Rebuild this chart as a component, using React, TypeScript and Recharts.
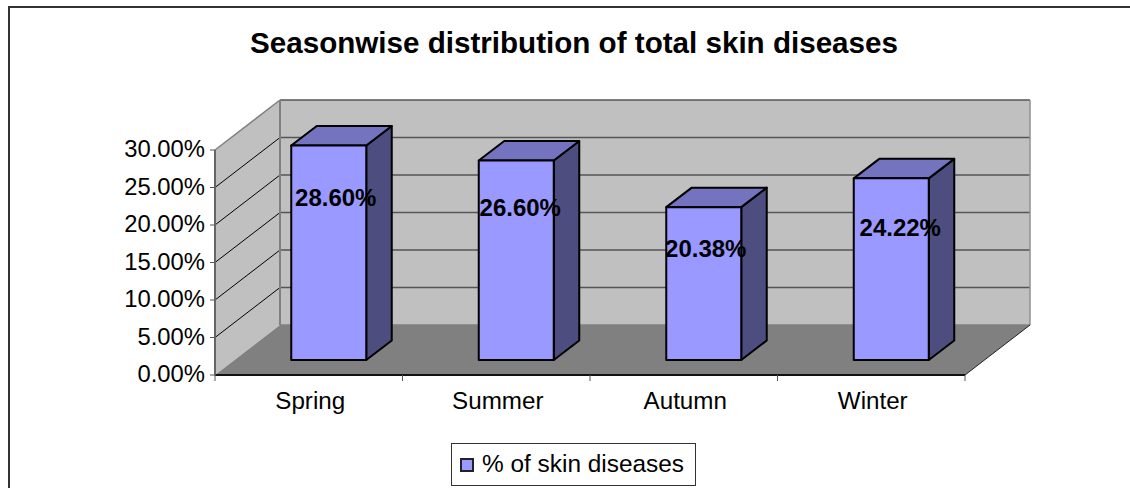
import { Bar, BarChart, LabelList, Legend, XAxis, YAxis, usePlotArea } from "recharts";

const seasons = ["Spring", "Summer", "Autumn", "Winter"];
const skinDiseases = [28.6, 26.6, 20.38, 24.22];
const yTicks = [0, 5, 10, 15, 20, 25, 30];

const chartData = seasons.map((season, i) => ({ season, value: skinDiseases[i] }));

const FONT = '"Liberation Sans", Arial, sans-serif';
const MAX_Y = 30;
// 3d projection offsets, in px
const WALL_DX = 65;
const WALL_DY = -50;
const BAR_DX = 20;
const BAR_DY = -15;
const SIDE_DX = 25.5;
const SIDE_DY = -19.5;
// the value labels sit a bit unevenly on the bars
const LABEL_NUDGE = [
  [0, 0],
  [-3, -3],
  [-5, -1],
  [2, 2],
];

function Backdrop() {
  const plot = usePlotArea();
  if (!plot) return null;
  const left = plot.x;
  const right = plot.x + plot.width;
  const top = plot.y;
  const bottom = plot.y + plot.height;
  const yOf = (v: number) => bottom - (v / MAX_Y) * plot.height;
  const band = plot.width / seasons.length;

  return (
    <g>
      <polygon
        points={`${left},${bottom} ${left + WALL_DX},${bottom + WALL_DY} ${left + WALL_DX},${top + WALL_DY} ${left},${top}`}
        fill="#c0c0c0"
      />
      <rect x={left + WALL_DX} y={top + WALL_DY} width={plot.width} height={plot.height} fill="#c0c0c0" />
      <polygon
        points={`${left},${bottom} ${right},${bottom} ${right + WALL_DX},${bottom + WALL_DY} ${left + WALL_DX},${bottom + WALL_DY}`}
        fill="#808080"
      />
      {yTicks.slice(1).map((t) => (
        <g key={t}>
          <line
            x1={left + WALL_DX}
            x2={right + WALL_DX}
            y1={yOf(t) + WALL_DY}
            y2={yOf(t) + WALL_DY}
            stroke="#555"
            strokeWidth={1.5}
          />
          {t < MAX_Y && (
            <line x1={left} y1={yOf(t)} x2={left + WALL_DX} y2={yOf(t) + WALL_DY} stroke="#000" strokeWidth={1} />
          )}
        </g>
      ))}
      <line x1={left} y1={top} x2={left + WALL_DX} y2={top + WALL_DY} stroke="#808080" strokeWidth={1.5} />
      <line x1={left + WALL_DX} y1={top + WALL_DY} x2={left + WALL_DX} y2={bottom + WALL_DY} stroke="#808080" strokeWidth={2} />
      <line x1={right + WALL_DX} y1={top + WALL_DY} x2={right + WALL_DX} y2={bottom + WALL_DY} stroke="#909090" strokeWidth={1.5} />
      <line x1={left + WALL_DX} y1={bottom + WALL_DY} x2={right + WALL_DX} y2={bottom + WALL_DY} stroke="#808080" strokeWidth={1.5} />
      <line x1={right} y1={bottom} x2={right + WALL_DX} y2={bottom + WALL_DY} stroke="#222" strokeWidth={1} />
      <line x1={left} y1={bottom} x2={right} y2={bottom} stroke="#111" strokeWidth={2} />
      {seasons.concat("").map((_, i) => (
        <line key={i} x1={left + i * band} x2={left + i * band} y1={bottom} y2={bottom + 6} stroke="#555" strokeWidth={1} />
      ))}
    </g>
  );
}

function Box3d(props: any) {
  const { x, y, width, height } = props;
  const fx = x + BAR_DX;
  const fy = y + BAR_DY;
  const r = fx + width;
  const b = fy + height;
  return (
    <g stroke="#000" strokeWidth={2} strokeLinejoin="round">
      <polygon points={`${r},${fy} ${r + SIDE_DX},${fy + SIDE_DY} ${r + SIDE_DX},${b + SIDE_DY} ${r},${b}`} fill="#4d4d80" />
      <polygon points={`${fx},${fy} ${fx + SIDE_DX},${fy + SIDE_DY} ${r + SIDE_DX},${fy + SIDE_DY} ${r},${fy}`} fill="#7373bf" />
      <rect x={fx} y={fy} width={width} height={height} fill="#9999ff" />
    </g>
  );
}

function ValueLabel(props: any) {
  const { x, y, width, height, value, index } = props;
  const [nx, ny] = LABEL_NUDGE[index] ?? [0, 0];
  return (
    <text
      x={x + BAR_DX + width / 2 + 7 + nx}
      y={y + 1 + height * 0.17 + ny}
      dominantBaseline="central"
      textAnchor="middle"
      fontFamily={FONT}
      fontSize={24}
      fontWeight="bold"
      fill="#000"
    >
      {Number(value).toFixed(2)}%
    </text>
  );
}

function LegendBox() {
  return (
    <div
      style={{
        width: 245,
        height: 43,
        boxSizing: "border-box",
        border: "1px solid #333",
        background: "#fff",
        display: "flex",
        alignItems: "center",
        fontFamily: FONT,
        fontSize: 24.4,
        lineHeight: "39px",
        color: "#000",
        whiteSpace: "nowrap",
      }}
    >
      <span
        style={{
          width: 14,
          height: 14,
          boxSizing: "border-box",
          border: "2px solid #222",
          background: "#9999ff",
          marginLeft: 8,
          marginRight: 8,
          marginTop: 1,
        }}
      />
      <span style={{ position: "relative", top: -1 }}>% of skin diseases</span>
    </div>
  );
}

export default function App() {
  return (
    <div style={{ position: "absolute", left: 0, top: 0, width: 1130, height: 488, background: "#fff", overflow: "hidden" }}>
      <div style={{ position: "absolute", left: 8, top: 6, right: 0, height: 2, background: "#333" }} />
      <div style={{ position: "absolute", left: 8, top: 6, bottom: 0, width: 2, background: "#333" }} />
      <div
        style={{
          position: "absolute",
          left: 0,
          width: 1148,
          top: 26,
          textAlign: "center",
          fontFamily: FONT,
          fontSize: 29.6,
          fontWeight: "bold",
          color: "#000",
          whiteSpace: "nowrap",
        }}
      >
        Seasonwise distribution of total skin diseases
      </div>
      <BarChart
        width={1130}
        height={488}
        data={chartData}
        barCategoryGap="30%"
        margin={{ top: 150, right: 165, bottom: 73, left: 115 }}
        style={{ position: "absolute", left: 0, top: 0 }}
      >
        <Backdrop />
        <XAxis
          dataKey="season"
          height={40}
          axisLine={false}
          tickLine={false}
          tick={{ fontFamily: FONT, fontSize: 24.2, fill: "#000", dx: 1.5 }}
          tickMargin={11}
          interval={0}
        />
        <YAxis
          width={100}
          domain={[0, MAX_Y]}
          ticks={yTicks}
          tickFormatter={(v: number) => `${v.toFixed(2)}%`}
          axisLine={{ stroke: "#666", strokeWidth: 2 }}
          tickLine={{ stroke: "#555" }}
          tickSize={5}
          tickMargin={5}
          tick={{ fontFamily: FONT, fontSize: 23.8, fill: "#000", dy: -1 }}
        />
        <Legend
          layout="horizontal"
          verticalAlign="middle"
          wrapperStyle={{ left: 451, top: 443, width: 245, height: 43 }}
          content={<LegendBox />}
        />
        <Bar dataKey="value" name="% of skin diseases" fill="#9999ff" shape={<Box3d />} isAnimationActive={false}>
          <LabelList content={<ValueLabel />} />
        </Bar>
      </BarChart>
    </div>
  );
}
